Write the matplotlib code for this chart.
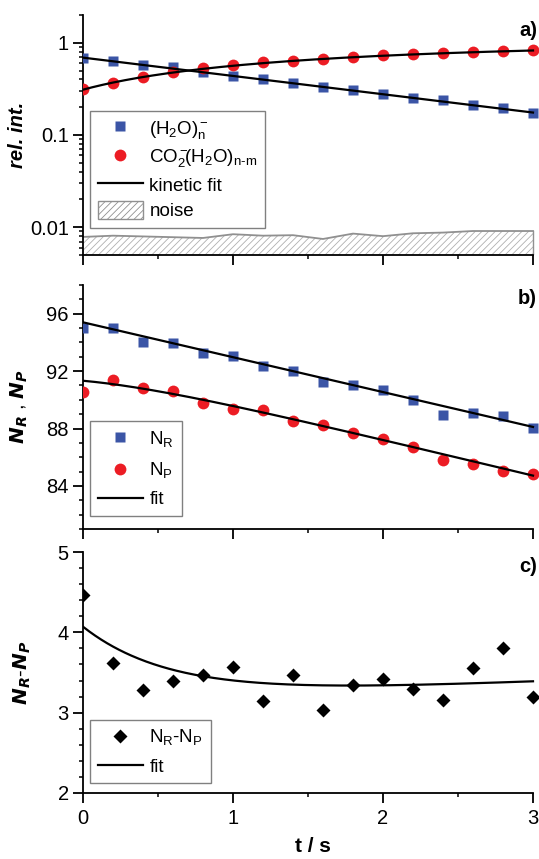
import numpy as np
import matplotlib
matplotlib.use("Agg")
import matplotlib.pyplot as plt
from matplotlib.lines import Line2D
from matplotlib.patches import Patch
from matplotlib.ticker import MultipleLocator, FixedLocator, LogLocator, NullFormatter, FuncFormatter

plt.rcParams['font.family'] = ['Liberation Sans', 'DejaVu Sans']
plt.rcParams['mathtext.fontset'] = 'custom'
plt.rcParams['mathtext.rm'] = 'Liberation Sans'
plt.rcParams['mathtext.it'] = 'Liberation Sans:italic'
plt.rcParams['mathtext.bf'] = 'Liberation Sans:bold'
plt.rcParams['mathtext.default'] = 'regular'
plt.rcParams['hatch.linewidth'] = 0.6

# ---------------- data ----------------
t = [0.0, 0.2, 0.4, 0.6, 0.8, 1.0, 1.2, 1.4, 1.6, 1.8, 2.0, 2.2, 2.4, 2.6, 2.8, 3.0]

water = [0.686, 0.64, 0.58, 0.543, 0.483, 0.44, 0.405, 0.366, 0.328, 0.305,
         0.28, 0.255, 0.237, 0.214, 0.197, 0.175]
co2 = [0.315, 0.363, 0.426, 0.479, 0.533, 0.58, 0.615, 0.641, 0.675, 0.704,
       0.733, 0.759, 0.771, 0.798, 0.811, 0.832]
noise = [0.00785, 0.0081, 0.00795, 0.0078, 0.00765, 0.0084, 0.0081, 0.0082,
         0.00746, 0.00853, 0.0080, 0.0086, 0.00875, 0.0091, 0.0091, 0.0091]

n_r = [95.02, 95.02, 94.06, 93.94, 93.26, 93.03, 92.37, 92.02, 91.25, 91.0,
       90.67, 89.99, 88.96, 89.05, 88.9, 88.05]
n_p = [90.56, 91.36, 90.79, 90.58, 89.76, 89.39, 89.28, 88.53, 88.23, 87.68,
       87.27, 86.7, 85.81, 85.51, 85.05, 84.85]
diff = [4.47, 3.62, 3.28, 3.39, 3.47, 3.57, 3.15, 3.47, 3.03, 3.34,
        3.42, 3.29, 3.16, 3.55, 3.80, 3.19]

# kinetic fit parameters
k_decay, a0 = 0.457, 0.69          # (H2O)n- decay
nr0, nr_slope = 95.4, -2.43        # N_R fit (linear)
d_c, d_a, d_k, d_b = 3.16, 0.91, 1.7, 0.075   # N_R-N_P fit

tf = np.linspace(0, 3, 300)
fit_water = a0 * np.exp(-k_decay * tf)
fit_co2 = 1 - fit_water
fit_nr = nr0 + nr_slope * tf
fit_diff = d_c + d_a * np.exp(-d_k * tf) + d_b * tf
fit_np = fit_nr - fit_diff

BLUE = '#3b55a6'
RED = '#ec1c24'

W, H = 539, 859
fig = plt.figure(figsize=(W / 100, H / 100), dpi=100)

x0_px = 83.0
x3_px = 533.0
xmax = 3.06
ppu = (x3_px - x0_px) / 3
left = x0_px / W
width = ppu * xmax / W

def ax_at(top_px, bot_px):
    return fig.add_axes([left, 1 - bot_px / H, width, (bot_px - top_px) / H])

axa = ax_at(15, 255)
axb = ax_at(285, 529)
axc = ax_at(552, 793)

TICK_FS = 14.5
for ax in (axa, axb, axc):
    ax.spines['top'].set_visible(False)
    ax.spines['right'].set_visible(False)
    ax.spines['left'].set_linewidth(1.3)
    ax.spines['bottom'].set_linewidth(1.3)
    ax.spines['bottom'].set_bounds(0, 3)
    ax.set_xlim(0, xmax)
    ax.xaxis.set_major_locator(FixedLocator([0, 1, 2, 3]))
    ax.xaxis.set_minor_locator(FixedLocator([0.5, 1.5, 2.5]))
    ax.tick_params(which='major', direction='out', length=7.2, width=1.3, labelsize=TICK_FS)
    ax.tick_params(which='minor', direction='out', length=3.0, width=1.1)
    ax.tick_params(axis='x', which='major', pad=4.0)
    ax.tick_params(axis='y', which='major', pad=3.0)
    ax.patch.set_alpha(0)

ms_sq = 7.5
ms_ci = 8.5
LEG_KW = dict(loc='lower left', bbox_transform=fig.transFigure, borderaxespad=0,
              fancybox=False, edgecolor='#808080', framealpha=1, fontsize=13.5,
              handlelength=2.4, handletextpad=0.37, borderpad=0.4)

# ---------- panel a ----------
axa.set_yscale('log')
axa.set_ylim(0.005, 2.0)
axa.yaxis.set_major_locator(FixedLocator([0.01, 0.1, 1]))
axa.yaxis.set_major_formatter(FuncFormatter(lambda v, p: {0.01: '0.01', 0.1: '0.1', 1: '1'}.get(round(v, 3), '')))
axa.yaxis.set_minor_locator(LogLocator(base=10, subs=np.arange(2, 10)))
axa.yaxis.set_minor_formatter(NullFormatter())
axa.tick_params(axis='x', labelbottom=False)

axa.fill_between(t, 0.005, noise, facecolor='white', edgecolor='#b0b0b0', hatch='/////', linewidth=0, zorder=1)
axa.plot(t, noise, color='#909090', lw=1.3, zorder=2)
axa.plot([3, 3], [0.005, noise[-1]], color='#909090', lw=1.0, zorder=2)
axa.plot(t, water, 's', color=BLUE, ms=ms_sq, mec='none', zorder=3)
axa.plot(t, co2, 'o', color=RED, ms=ms_ci, mec='none', zorder=3)
axa.plot(tf, fit_water, color='black', lw=1.6, zorder=4)
axa.plot(tf, fit_co2, color='black', lw=1.6, zorder=4)
axa.set_ylabel('rel. int.', fontsize=14.5, fontweight='bold', fontstyle='italic')

handles_a = [
    Line2D([], [], ls='none', marker='s', color=BLUE, ms=ms_sq, mec='none'),
    Line2D([], [], ls='none', marker='o', color=RED, ms=ms_ci, mec='none'),
    Line2D([], [], color='black', lw=1.6),
    Patch(facecolor='white', edgecolor='#909090', hatch='/////', lw=1.0),
]
labels_a = [r'$(H_2O)_n^-$', r'$CO_2^-\!\!(H_2O)_{n\text{-}m}$', 'kinetic fit', 'noise']
leg = axa.legend(handles_a, labels_a, bbox_to_anchor=(90 / W, 1 - 228 / H),
                 labelspacing=0.35, handleheight=1.05, **LEG_KW)
leg.get_frame().set_linewidth(1.0)

# ---------- panel b ----------
axb.set_ylim(81, 98)
axb.yaxis.set_major_locator(FixedLocator([84, 88, 92, 96]))
axb.yaxis.set_minor_locator(MultipleLocator(1))
axb.tick_params(axis='x', labelbottom=False)
axb.plot(t, n_r, 's', color=BLUE, ms=ms_sq, mec='none', zorder=3)
axb.plot(t, n_p, 'o', color=RED, ms=ms_ci, mec='none', zorder=3)
axb.plot(tf, fit_nr, color='black', lw=1.6, zorder=4)
axb.plot(tf, fit_np, color='black', lw=1.6, zorder=4)
axb.set_ylabel(r'$\mathbfit{N}_{\mathbfit{R}}$ , $\mathbfit{N}_{\mathbfit{P}}$', fontsize=14.5)

handles_b = [
    Line2D([], [], ls='none', marker='s', color=BLUE, ms=ms_sq, mec='none'),
    Line2D([], [], ls='none', marker='o', color=RED, ms=ms_ci, mec='none'),
    Line2D([], [], color='black', lw=1.6),
]
legb = axb.legend(handles_b, [r'N$_R$', r'N$_P$', 'fit'],
                  bbox_to_anchor=(90 / W, 1 - 516 / H), labelspacing=0.6, **LEG_KW)
legb.get_frame().set_linewidth(1.0)

# ---------- panel c ----------
axc.set_ylim(2, 5)
axc.yaxis.set_major_locator(FixedLocator([2, 3, 4, 5]))
axc.yaxis.set_minor_locator(MultipleLocator(0.2))
axc.plot(t, diff, 'D', color='black', ms=7, mec='none', zorder=3)
axc.plot(tf, fit_diff, color='black', lw=1.6, zorder=4)
axc.set_ylabel(r'$\mathbfit{N}_{\mathbfit{R}}$-$\mathbfit{N}_{\mathbfit{P}}$', fontsize=14.5)
axc.set_xlabel('t / s', fontsize=15, fontweight='bold', labelpad=7)

handles_c = [
    Line2D([], [], ls='none', marker='D', color='black', ms=7, mec='none'),
    Line2D([], [], color='black', lw=1.6),
]
legc = axc.legend(handles_c, [r'N$_R$-N$_P$', 'fit'],
                  bbox_to_anchor=(90 / W, 1 - 783 / H), labelspacing=0.6, **LEG_KW)
legc.get_frame().set_linewidth(1.0)

# panel letters
for txt, ypx in (('a)', 30), ('b)', 298), ('c)', 567)):
    fig.text(537 / W, 1 - ypx / H, txt, ha='right', va='center', fontsize=14.5, fontweight='bold')

# y label positions (right edge of rotated text, in pixels)
ax_w_px = ppu * xmax
for ax, right_px in ((axa, 27), (axb, 30), (axc, 33)):
    ax.yaxis.set_label_coords((right_px - x0_px) / ax_w_px, 0.5)

fig.savefig('out.png', dpi=100)
